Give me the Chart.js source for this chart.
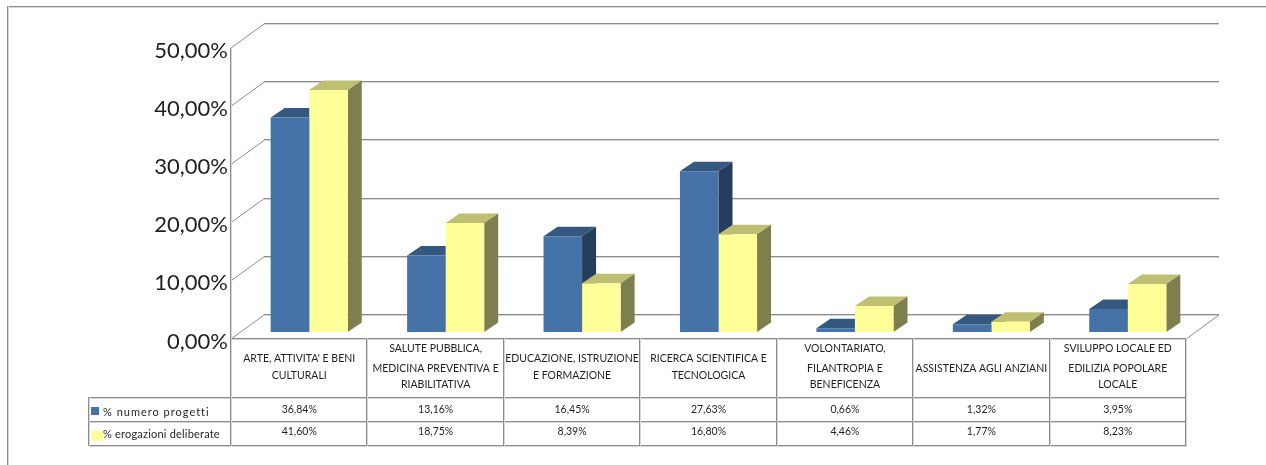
<!DOCTYPE html>
<html><head><meta charset="utf-8">
<style>html,body{margin:0;padding:0;background:#fff}canvas{display:block}</style>
<script src="https://cdn.jsdelivr.net/npm/chart.js@4"></script>
</head><body><canvas id="c" width="1266" height="465"></canvas>
<script>
const categories = [
  ["ARTE, ATTIVITA' E BENI","CULTURALI"],
  ["SALUTE PUBBLICA,","MEDICINA PREVENTIVA E","RIABILITATIVA"],
  ["EDUCAZIONE, ISTRUZIONE","E FORMAZIONE"],
  ["RICERCA SCIENTIFICA E","TECNOLOGICA"],
  ["VOLONTARIATO,","FILANTROPIA E","BENEFICENZA"],
  ["ASSISTENZA AGLI ANZIANI"],
  ["SVILUPPO LOCALE ED","EDILIZIA POPOLARE","LOCALE"]
];
const seriesNames = ["% numero progetti","% erogazioni deliberate"];
const progetti = [36.84,13.16,16.45,27.63,0.66,1.32,3.95];
const erogazioni = [41.60,18.75,8.39,16.80,4.46,1.77,8.23];
const yTicks = [0,10,20,30,40,50];

const fmt = v => v.toFixed(2).replace('.',',') + '%';
const FONT = 'Lato, "Open Sans", sans-serif';
const LINE = '#8c8c8c', SHADOW = '#d6d6d6', INK = '#1f1f1f';
const faces = [{top:'#34587f',side:'#253d5c'},{top:'#bfbf73',side:'#7f7f4d'}];
const DX=33, DY=24, BX=14, BY=9.5, SHIFTX=10, SHIFTY=-7;

function hLine(ctx,x1,x2,y){y=Math.round(y);ctx.fillStyle=SHADOW;ctx.fillRect(x1,y,x2-x1,1);ctx.fillStyle=LINE;ctx.fillRect(x1,y-1,x2-x1,1);}
function vLine(ctx,x,y1,y2){x=Math.round(x);ctx.fillStyle=SHADOW;ctx.fillRect(x,y1,1,y2-y1);ctx.fillStyle=LINE;ctx.fillRect(x-1,y1,1,y2-y1);}
function poly(ctx,pts,color){ctx.fillStyle=color;ctx.beginPath();pts.forEach((p,i)=>i?ctx.lineTo(p[0],p[1]):ctx.moveTo(p[0],p[1]));ctx.closePath();ctx.fill();}

const frame3d = {
  id:'frame3d',
  beforeDatasetsDraw(chart){
    const {ctx,chartArea:a,scales:{y}}=chart;
    ctx.save();
    // outer frame
    hLine(ctx,7,1266,7); vLine(ctx,8,6,465);
    // walls and gridlines
    yTicks.forEach(t=>{
      const py=y.getPixelForValue(t);
      hLine(ctx,a.left+DX,a.right+DX,py-DY);
      ctx.strokeStyle=LINE;ctx.lineWidth=1;
      ctx.beginPath();ctx.moveTo(a.left,py);ctx.lineTo(a.left+DX,py-DY);ctx.stroke();
    });
    ctx.beginPath();ctx.moveTo(a.right,a.bottom);ctx.lineTo(a.right+DX,a.bottom-DY);ctx.stroke();
    vLine(ctx,a.left,a.top,a.bottom);
    ctx.restore();
    // bars sit back from the front plane
    ctx.save();
    ctx.translate(SHIFTX,SHIFTY);
    [0,1].forEach(d=>{
      chart.getDatasetMeta(d).data.forEach(el=>{
        const l=el.x-el.width/2,r=el.x+el.width/2,t=el.y,b=el.base;
        poly(ctx,[[l,t],[l+BX,t-BY],[r+BX,t-BY],[r,t]],faces[d].top);
        poly(ctx,[[r,t],[r+BX,t-BY],[r+BX,b-BY],[r,b]],faces[d].side);
      });
    });
  },
  afterDatasetsDraw(chart){
    chart.ctx.restore();
    const {ctx,chartArea:a,scales:{x}}=chart;
    ctx.save();
    const rows=[339,398,422,446], labelL=89;
    hLine(ctx,a.left,a.right+1,rows[0]);
    rows.slice(1).forEach(r=>hLine(ctx,labelL,a.right+1,r));
    vLine(ctx,labelL,rows[1]-1,rows[3]);
    const w=(a.right-a.left)/categories.length;
    for(let i=0;i<=categories.length;i++) vLine(ctx,a.left+w*i,rows[0]-1,rows[3]);
    ctx.fillStyle=INK;ctx.textAlign='center';ctx.textBaseline='middle';
    ctx.font='10.5px '+FONT;
    const lineY={1:[369],2:[359,376],3:[349,369,385]};
    categories.forEach((lines,i)=>{
      const cx=x.getPixelForValue(i);
      lines.forEach((s,j)=>ctx.fillText(s,cx,lineY[lines.length][j]));
      ctx.fillText(fmt(progetti[i]),cx,410);
      ctx.fillText(fmt(erogazioni[i]),cx,432);
    });
    ctx.textAlign='left';
    ctx.font='11px '+FONT;
    ctx.letterSpacing='1px';
    ctx.fillText(seriesNames[0],103,412);
    ctx.letterSpacing='0.2px';
    ctx.fillText(seriesNames[1],103,434);
    ctx.letterSpacing='0px';
    ctx.fillStyle='#4572a7';ctx.fillRect(91,407,8,8);
    ctx.fillStyle='#ffff99';ctx.fillRect(91,431,12,10);
    ctx.restore();
  }
};

new Chart(document.getElementById('c'),{
  type:'bar',
  data:{labels:categories.map(l=>l.join(' ')),datasets:[
    {label:seriesNames[0],data:progetti,backgroundColor:'#4572a7',barPercentage:1,categoryPercentage:0.565},
    {label:seriesNames[1],data:erogazioni,backgroundColor:'#ffff99',barPercentage:1,categoryPercentage:0.565}
  ]},
  options:{
    responsive:false,animation:false,
    layout:{padding:{left:0,right:80,top:48,bottom:126}},
    plugins:{legend:{display:false},title:{display:false},tooltip:{enabled:false}},
    scales:{
      x:{display:true,grid:{display:false},border:{display:false},ticks:{display:false},afterFit(s){s.height=0;}},
      y:{min:0,max:50,grid:{display:false,drawTicks:false},border:{display:false},
         afterFit(s){s.width=231;},
         ticks:{stepSize:10,padding:3,color:INK,font:{family:FONT,size:22,lineHeight:'5px'},callback:v=>['',fmt(v)]}}
    }
  },
  plugins:[frame3d]
});
</script></body></html>
